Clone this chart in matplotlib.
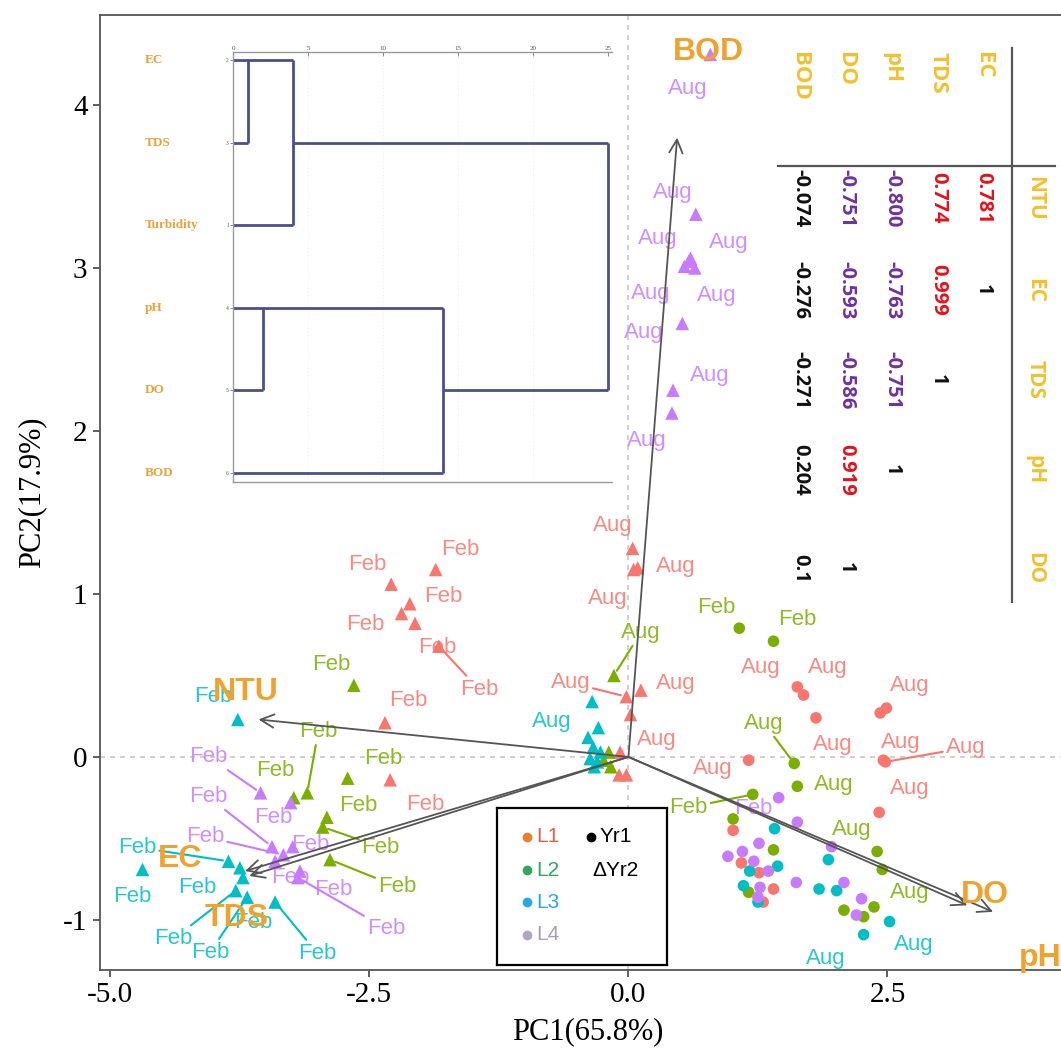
import matplotlib
matplotlib.use("Agg")
import matplotlib.pyplot as plt

# ============================================================
# Data
# ============================================================
# PCA scores, one set of lists per location (L1..L4) and year (Yr1 circles, Yr2 triangles)
L1_YR1_PC1 = [1.63, 1.69, 1.81, 2.43, 2.49, 1.16, 2.48, 2.46, 2.42, 1.01, 1.09, 1.26, 1.40, 1.30]
L1_YR1_PC2 = [0.43, 0.38, 0.24, 0.27, 0.30, -0.02, -0.03, -0.02, -0.34, -0.45, -0.65, -0.71, -0.81, -0.89]
L1_YR1_MONTH = ["Aug"] * 14

L2_YR1_PC1 = [1.07, 1.40, 1.60, 1.63, 1.20, 1.01, 1.40, 1.16, 2.40, 2.45, 2.08, 2.27, 2.37]
L2_YR1_PC2 = [0.79, 0.71, -0.04, -0.18, -0.23, -0.38, -0.57, -0.83, -0.58, -0.69, -0.94, -0.98, -0.92]
L2_YR1_MONTH = ["Feb", "Feb", "Aug", "Aug", "Feb"] + ["Aug"] * 8

L3_YR1_PC1 = [1.41, 1.93, 1.17, 1.44, 1.11, 1.25, 1.84, 2.01, 2.52, 2.27]
L3_YR1_PC2 = [-0.44, -0.63, -0.70, -0.67, -0.79, -0.89, -0.81, -0.82, -1.01, -1.09]
L3_YR1_MONTH = ["Aug"] * 10

L4_YR1_PC1 = [1.45, 1.63, 1.26, 0.96, 1.10, 1.96, 1.21, 1.35, 1.27, 1.25, 1.62, 2.08, 2.25, 2.20]
L4_YR1_PC2 = [-0.25, -0.40, -0.53, -0.61, -0.58, -0.55, -0.64, -0.70, -0.80, -0.86, -0.77, -0.77, -0.87, -0.97]
L4_YR1_MONTH = ["Feb"] + ["Aug"] * 13

L1_YR2_PC1 = [-2.29, -1.86, -2.11, -2.19, -2.06, -1.83, -2.35, -2.30,
              0.04, 0.05, 0.09, -0.02, 0.12, 0.02, -0.08, -0.09, -0.02]
L1_YR2_PC2 = [1.06, 1.15, 0.94, 0.88, 0.82, 0.68, 0.21, -0.14,
              1.28, 1.15, 1.16, 0.37, 0.41, 0.26, 0.03, -0.11, -0.11]
L1_YR2_MONTH = ["Feb"] * 8 + ["Aug"] * 9

L2_YR2_PC1 = [-2.65, -2.71, -3.23, -3.10, -2.91, -2.95, -2.88, -0.14, -0.19, -0.17, -0.24]
L2_YR2_PC2 = [0.44, -0.13, -0.25, -0.22, -0.37, -0.43, -0.63, 0.50, 0.03, -0.06, -0.02]
L2_YR2_MONTH = ["Feb"] * 7 + ["Aug"] * 4

L3_YR2_PC1 = [-3.77, -4.69, -3.86, -3.75, -3.79, -3.68, -3.41, -3.72,
              -0.35, -0.29, -0.39, -0.34, -0.37, -0.30, -0.27, -0.33]
L3_YR2_PC2 = [0.23, -0.69, -0.64, -0.68, -0.82, -0.86, -0.89, -0.74,
              0.34, 0.18, 0.12, 0.06, -0.01, -0.03, 0.03, -0.06]
L3_YR2_MONTH = ["Feb"] * 8 + ["Aug"] * 8

L4_YR2_PC1 = [0.79, 0.65, 0.60, 0.54, 0.64, 0.58, 0.52, 0.43, 0.42,
              -3.55, -3.26, -3.44, -3.24, -3.19, -3.33, -3.41, -3.17]
L4_YR2_PC2 = [4.31, 3.33, 3.06, 3.01, 3.00, 3.04, 2.66, 2.25, 2.11,
              -0.22, -0.28, -0.55, -0.55, -0.74, -0.60, -0.64, -0.70]
L4_YR2_MONTH = ["Aug"] * 9 + ["Feb"] * 8

# loadings (arrows)
LOAD_VARS = ["NTU", "EC", "TDS", "pH", "DO", "BOD"]
LOAD_PC1 = [-3.57, -3.70, -3.66, 3.52, 3.27, 0.47]
LOAD_PC2 = [0.23, -0.70, -0.73, -0.95, -0.91, 3.80]

# dendrogram (top-to-bottom leaf order, case ids, merge distances)
DENDRO_LEAVES = ["EC", "TDS", "Turbidity", "pH", "DO", "BOD"]
DENDRO_IDS = ["2", "3", "1", "4", "5", "6"]
H_EC_TDS, H_TURB, H_PH_DO, H_BOD, H_ALL = 1.0, 4.0, 2.0, 14.0, 25.0

# correlation table (lower triangle, printed as in source)
CORR_COLS = ["NTU", "EC", "TDS", "pH", "DO"]
CORR_ROWS = ["EC", "TDS", "pH", "DO", "BOD"]
CORR_VALUES = [
    ["0.781", "1"],
    ["0.774", "0.999", "1"],
    ["-0.800", "-0.763", "-0.751", "1"],
    ["-0.751", "-0.593", "-0.586", "0.919", "1"],
    ["-0.074", "-0.276", "-0.271", "0.204", "0.1"],
]

# ============================================================
# Layout / style
# ============================================================
W = H = 1061
DPI = 100
COLORS = {"L1": "#F8766D", "L2": "#7CAE00", "L3": "#00BFC4", "L4": "#C77CFF"}
VAR_COLOR = "#F0A22E"
SERIF = "Liberation Serif"
SANS = "Liberation Sans"

# repel-style label offsets in pixels (dx right, dy down), None = label dropped
L1_YR1_LAB = [(-37, -19), (24, -28), (17, 27), (30, -27), None, (-36, 8), (80, -14), (17, -18),
              (31, -24), None, None, None, None, None]
L2_YR1_LAB = [(-23, -21), (24, -22), (-30, -40), (36, -2), (-64, 13), None, None, None,
              (-25, -22), None, None, None, (36, -14)]
L3_YR1_LAB = [None] * 8 + [(24, 23), (-38, 24)]
L4_YR1_LAB = [(-25, 11)] + [None] * 13
L1_YR2_LAB = [(-24, -20), (25, -20), (34, -7), (-36, 11), (22, 24), (40, 43), (23, -22), (35, 25),
              (-20, -23), (-26, 29), (38, -1), (-56, -14), (35, -7), (26, 25), None, None, None]
L2_YR2_LAB = [(-23, -21), (36, -20), (-18, -27), (11, -61), (31, -12), (58, 20), (67, 27),
              (27, -43), None, None, None]
L3_YR2_LAB = [(-24, -23), (-10, 27), (-91, -14), (-43, 20), (-62, 48), (-37, 55), (42, 51), (10, 45),
              (-40, 20)] + [None] * 7
L4_YR2_LAB = [(-23, 34), (-23, -22), (-33, -20), (-34, 27), (34, -25), (28, 34), (-39, 9), (37, -15),
              (-25, 27), (-52, -36), (-17, 15), (-64, -50), (18, -2), (88, 51), (-78, -18), (15, 16),
              (33, 18)]
LOAD_LAB = [(-13, -27), (-65, -12), (-13, 42), (47, 46), (18, -10), (31, -86)]


def fx(px):
    return px / W


def fy(py):
    return 1 - py / H


fig = plt.figure(figsize=(W / DPI, H / DPI), dpi=DPI)
fig.patch.set_facecolor("white")

# ---------------- main biplot ----------------
ax = fig.add_axes([fx(100), fy(970), (1075 - 100) / W, (970 - 15) / H])
ax.set_xlim(-5.10, 4.31)
ax.set_ylim(-1.307, 4.552)
ax.axhline(0, color="#c8c8c8", ls=(0, (3, 3)), lw=1.2, zorder=0)
ax.axvline(0, color="#c8c8c8", ls=(0, (3, 3)), lw=1.2, zorder=0)

groups = [
    (L1_YR1_PC1, L1_YR1_PC2, L1_YR1_MONTH, L1_YR1_LAB, "L1", "o"),
    (L2_YR1_PC1, L2_YR1_PC2, L2_YR1_MONTH, L2_YR1_LAB, "L2", "o"),
    (L3_YR1_PC1, L3_YR1_PC2, L3_YR1_MONTH, L3_YR1_LAB, "L3", "o"),
    (L4_YR1_PC1, L4_YR1_PC2, L4_YR1_MONTH, L4_YR1_LAB, "L4", "o"),
    (L1_YR2_PC1, L1_YR2_PC2, L1_YR2_MONTH, L1_YR2_LAB, "L1", "^"),
    (L2_YR2_PC1, L2_YR2_PC2, L2_YR2_MONTH, L2_YR2_LAB, "L2", "^"),
    (L3_YR2_PC1, L3_YR2_PC2, L3_YR2_MONTH, L3_YR2_LAB, "L3", "^"),
    (L4_YR2_PC1, L4_YR2_PC2, L4_YR2_MONTH, L4_YR2_LAB, "L4", "^"),
]
for pc1, pc2, months, labs, loc, mk in groups:
    c = COLORS[loc]
    ax.scatter(pc1, pc2, s=70 if mk == "o" else 95, marker=mk, color=c,
               edgecolors="none", zorder=3)
    for x, y, m, off in zip(pc1, pc2, months, labs):
        if off is None:
            continue
        dx, dy = off
        seg = dict(arrowstyle="-", color=c, lw=1.5, shrinkA=0, shrinkB=4) \
            if (dx * dx + dy * dy) ** 0.5 > 48 else None
        ax.annotate(m, (x, y), xytext=(dx, -dy), textcoords="offset pixels",
                    ha="center", va="center", fontsize=16, family=SANS,
                    color=c, alpha=0.85, zorder=4, arrowprops=seg)

# loading arrows + labels
for name, lx, ly, (dx, dy) in zip(LOAD_VARS, LOAD_PC1, LOAD_PC2, LOAD_LAB):
    ax.annotate("", xy=(lx, ly), xytext=(0, 0),
                arrowprops=dict(arrowstyle="->", color="#555555", lw=1.3,
                                mutation_scale=24, shrinkA=0, shrinkB=0), zorder=5)
    ax.annotate(name, (lx, ly), xytext=(dx, -dy), textcoords="offset pixels",
                ha="center", va="center", fontsize=23, fontweight="bold",
                family=SANS, color=VAR_COLOR, zorder=6)

ax.set_xticks([-5.0, -2.5, 0.0, 2.5])
ax.set_xticklabels(["-5.0", "-2.5", "0.0", "2.5"])
ax.set_yticks([-1, 0, 1, 2, 3, 4])
ax.set_yticklabels(["-1", "0", "1", "2", "3", "4"])
for lab in ax.get_xticklabels() + ax.get_yticklabels():
    lab.set_family(SERIF)
    lab.set_fontsize(21)
ax.tick_params(length=5, width=1.2, color="#444444", pad=4)
for sp in ax.spines.values():
    sp.set_color("#555555")
    sp.set_linewidth(1.3)
ax.set_xlabel("PC1(65.8%)", family=SERIF, fontsize=22, labelpad=6)
ax.set_ylabel("PC2(17.9%)", family=SERIF, fontsize=22, labelpad=12)

# ---------------- dendrogram inset ----------------
dax = fig.add_axes([fx(233), fy(482), (612 - 233) / W, (482 - 52) / H])
dax.set_facecolor("none")
dax.set_xlim(0, 25.27)
dax.set_ylim(5.11, -0.097)
lc = "#4B4F8C"
lw = 2.0
row = {name: i for i, name in enumerate(DENDRO_LEAVES)}
r_ec, r_tds, r_tu, r_ph, r_do, r_bod = (row[n] for n in DENDRO_LEAVES)
# horizontal segments (row, x0, x1) and vertical segments (x, r0, r1)
hsegs = [(r_ec, 0, H_TURB), (r_tds, 0, H_EC_TDS), (r_tu, 0, H_TURB), (r_tds, H_TURB, H_ALL),
         (r_ph, 0, H_BOD), (r_do, 0, H_PH_DO), (r_bod, 0, H_BOD), (r_do, H_BOD, H_ALL)]
vsegs = [(H_EC_TDS, r_ec, r_tds), (H_TURB, r_ec, r_tu), (H_PH_DO, r_ph, r_do),
         (H_BOD, r_ph, r_bod), (H_ALL, r_tds, r_do)]
for r, x0, x1 in hsegs:
    dax.plot([x0, x1], [r, r], color=lc, lw=lw, solid_capstyle="butt")
for x, r0, r1 in vsegs:
    dax.plot([x, x], [r0, r1], color=lc, lw=lw, solid_capstyle="butt")
for xg in [5, 10, 15, 20]:
    dax.axvline(xg, color="#e4e4e4", lw=0.6, ls=(0, (1, 3)), zorder=0)
dax.xaxis.tick_top()
dax.set_xticks([0, 5, 10, 15, 20, 25])
dax.tick_params(axis="x", labelsize=5, length=3, width=0.6, color="#777777", pad=1,
                direction="in", labelcolor="#555555")
dax.set_yticks(range(len(DENDRO_LEAVES)))
dax.set_yticklabels(DENDRO_IDS)
dax.tick_params(axis="y", labelsize=4, length=2, width=0.6, color="#777777", pad=1,
                labelcolor="#555555")
for lab in dax.get_xticklabels() + dax.get_yticklabels():
    lab.set_family(SERIF)
dax.spines["right"].set_visible(False)
for s in ["top", "left", "bottom"]:
    dax.spines[s].set_color("#9a9a9a")
    dax.spines[s].set_linewidth(1.0)
for name, r in row.items():
    fig.text(fx(145), fy(60 + r * 82.6), name, ha="left", va="center", family=SERIF,
             fontsize=9.5, fontweight="bold", color="#E8A33A")

# ---------------- correlation table (rotated) ----------------
row_x = [983, 938, 892, 846, 800]        # EC, TDS, pH, DO, BOD
col_y = [198, 290, 380, 470, 568]        # NTU, EC, TDS, pH, DO
head_x = 1035
for name, x in zip(CORR_ROWS, row_x):
    fig.text(fx(x), fy(52), name, rotation=270, ha="center", va="top", family="Open Sans",
             fontsize=16, fontweight="bold", color="#F2C12E")
for name, y in zip(CORR_COLS, col_y):
    fig.text(fx(head_x), fy(y), name, rotation=270, ha="center", va="center",
             family="Open Sans", fontsize=15, fontweight="bold", color="#F2C12E")
for vals, x in zip(CORR_VALUES, row_x):
    for v, y in zip(vals, col_y):
        f = float(v)
        if f >= 0.7 and f < 1:
            c = "#E8101A"
        elif f <= -0.5:
            c = "#7030A0"
        else:
            c = "#111111"
        fig.text(fx(x), fy(y), v, rotation=270, ha="center", va="center", family="Open Sans",
                 fontsize=14.5, fontweight="bold", color=c)
fig.add_artist(plt.Line2D([fx(778), fx(1055)], [fy(166), fy(166)], color="#555555", lw=1.6))
fig.add_artist(plt.Line2D([fx(1012), fx(1012)], [fy(48), fy(602)], color="#555555", lw=1.6))

# ---------------- custom legend ----------------
lax = fig.add_axes([fx(497), fy(965), (667 - 497) / W, (965 - 808) / H])
lax.set_xlim(497, 667)
lax.set_ylim(965, 808)
lax.set_xticks([])
lax.set_yticks([])
for sp in lax.spines.values():
    sp.set_color("black")
    sp.set_linewidth(1.6)
leg_items = [("L1", "#ED7D31", "#E0604A", 837), ("L2", "#2EAA5A", "#2EAA5A", 870),
             ("L3", "#29A8E0", "#29A8E0", 902), ("L4", "#B0A6C4", "#A89EBC", 935)]
for lab, dot_c, txt_c, y in leg_items:
    lax.plot(527, y, "o", color=dot_c, ms=6)
    lax.text(536, y, lab, ha="left", va="center", fontsize=15, family=SANS, color=txt_c)
lax.plot(591, 837, "o", color="black", ms=6)
lax.text(600, 837, "Yr1", ha="left", va="center", fontsize=15, family=SANS, color="black")
lax.text(592, 870, "\u0394Yr2", ha="left", va="center", fontsize=15, family=SANS, color="black")

fig.savefig("out.png", dpi=DPI)
